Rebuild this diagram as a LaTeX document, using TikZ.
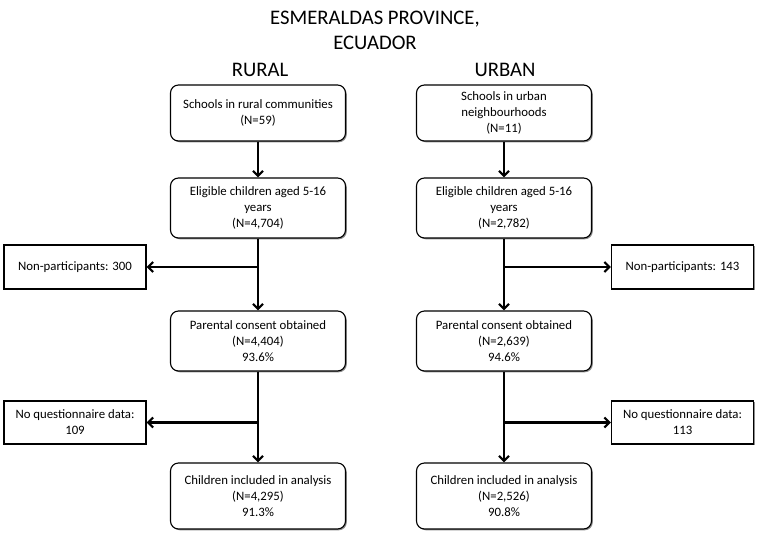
\documentclass[tikz,border=0pt]{standalone}
\usepackage{fontspec}
\setmainfont{Carlito}
\usetikzlibrary{arrows.meta,shadows}

\begin{document}
\begin{tikzpicture}[x=1pt, y=-1pt,
	rbox/.style={draw, line width=1.1pt, rounded corners=8pt, fill=white, align=center, minimum width=175pt, inner sep=2pt, font=\fontsize{12.8}{16}\selectfont, drop shadow={shadow xshift=1.3pt, shadow yshift=-1.3pt, fill=black!45, opacity=1}},
	sbox/.style={draw, line width=1.1pt, fill=white, align=center, minimum width=142pt, minimum height=44pt, inner sep=2pt, font=\fontsize{12.8}{16}\selectfont, drop shadow={shadow xshift=1.3pt, shadow yshift=-1.3pt, fill=black!45, opacity=1}},
	arr/.style={line width=2.2pt, -{Straight Barb[length=5pt, width=10pt]}},
	head/.style={font=\fontsize{20.7}{25}\selectfont, align=center}]

		\useasboundingbox (0,0) rectangle (758,536);

		\node[head] (title) at (375,30) {ESMERALDAS PROVINCE,\\ECUADOR};
		\node[head] (rural) at (260,70) {RURAL};
		\node[head] (urban) at (505,70) {URBAN};

		% rural column
		\node[rbox, minimum height=56pt] (r1) at (258,113) {Schools in rural communities\\(N=59)};
		\node[rbox, minimum height=60pt] (r2) at (258,208) {Eligible children aged 5-16\\years\\(N=4,704)};
		\node[rbox, minimum height=60pt] (r3) at (258,341) {Parental consent obtained\\(N=4,404)\\93.6\%};
		\node[rbox, minimum height=66pt] (r4) at (258,496) {Children included in analysis\\(N=4,295)\\91.3\%};
		\node[sbox] (rn) at (75,267) {Non-participants: 300};
		\node[sbox, minimum height=43pt] (rq) at (75,422.5) {No questionnaire data:\\109};

		% urban column
		\node[rbox, minimum height=56pt] (u1) at (504,113) {Schools in urban\\neighbourhoods\\(N=11)};
		\node[rbox, minimum height=60pt] (u2) at (504,208) {Eligible children aged 5-16\\years\\(N=2,782)};
		\node[rbox, minimum height=60pt] (u3) at (504,341) {Parental consent obtained\\(N=2,639)\\94.6\%};
		\node[rbox, minimum height=66pt] (u4) at (504,496) {Children included in analysis\\(N=2,526)\\90.8\%};
		\node[sbox] (un) at (682.5,267) {Non-participants: 143};
		\node[sbox, minimum height=43pt] (uq) at (682.5,422.5) {No questionnaire data:\\113};

		\draw[arr] (r1) -- (r2);
		\draw[arr] (r2) -- (r3);
		\draw[arr] (r3) -- (r4);
		\draw[arr] (r2.south |- rn) -- (rn.east);
		\draw[arr] (r3.south |- rq) -- (rq.east);

		\draw[arr] (u1) -- (u2);
		\draw[arr] (u2) -- (u3);
		\draw[arr] (u3) -- (u4);
		\draw[arr] (u2.south |- un) -- (un.west);
		\draw[arr] (u3.south |- uq) -- (uq.west);

\end{tikzpicture}
\end{document}
